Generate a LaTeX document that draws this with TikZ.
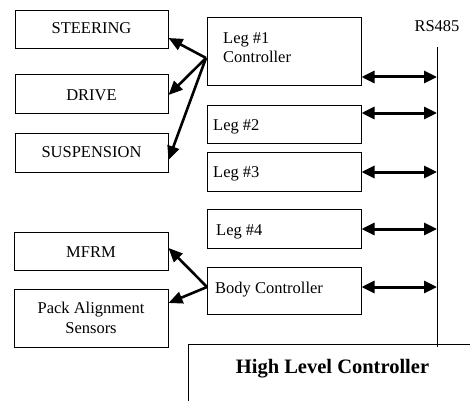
\documentclass[tikz,border=0pt]{standalone}
\usepackage{fontspec}
\setmainfont{Liberation Serif}
\usetikzlibrary{arrows.meta}
\begin{document}
\begin{tikzpicture}[x=1pt,y=-1pt,
  box/.style={draw, line width=1pt, rectangle, inner sep=0pt, minimum width=153pt},
  txt/.style={font=\fontsize{16.5}{19}\selectfont, inner sep=0pt},
  busarrow/.style={line width=3pt, {Triangle[length=13pt,width=12pt]}-{Triangle[length=13pt,width=12pt]}},
  subarrow/.style={line width=2.6pt, -{Triangle[length=14pt,width=12pt]}}]
\useasboundingbox (0,0) rectangle (470,401);
% left boxes
\node[box, minimum height=38pt] (steer) at (91.5,30) {};
\node[box, minimum height=38pt] (drive) at (91.5,94) {};
\node[box, minimum height=39pt] (susp) at (91.5,152.5) {};
\node[box, minimum height=38pt, minimum width=154pt] (mfrm) at (91,251) {};
\node[box, minimum height=58pt, minimum width=154pt] (pack) at (91,318) {};
% controller boxes
\node[box, minimum height=68pt, minimum width=154pt] (leg1) at (284,52) {};
\node[box, minimum height=38pt, minimum width=154pt] (leg2) at (284,124) {};
\node[box, minimum height=39pt, minimum width=154pt] (leg3) at (284,171.5) {};
\node[box, minimum height=39pt, minimum width=154pt] (leg4) at (284,228.5) {};
\node[box, minimum height=47pt, minimum width=154pt] (body) at (284,290.5) {};
% texts
\node[txt, anchor=base] at (91.5,34) {STEERING};
\node[txt, anchor=base] at (91.5,100) {DRIVE};
\node[txt, anchor=base] at (91.5,157) {SUSPENSION};
\node[txt, anchor=base] at (91,257) {MFRM};
\node[txt, anchor=base] at (91,313) {Pack Alignment};
\node[txt, anchor=base] at (91,333) {Sensors};
\node[txt, anchor=base west] at (223,44) {Leg \#1};
\node[txt, anchor=base west] at (223,63) {Controller};
\node[txt, anchor=base west] at (213,130) {Leg \#2};
\node[txt, anchor=base west] at (213,177) {Leg \#3};
\node[txt, anchor=base west] at (216,235) {Leg \#4};
\node[txt, anchor=base west] at (215,293) {Body Controller};
\node[txt, anchor=base] (rs) at (437,32) {RS485};
% high level controller (clipped by picture edge)
\coordinate (hl) at (188,344);
\draw[line width=1pt] (188,401) -- (hl) -- (470,344);
\node[inner sep=0pt, anchor=base, font=\fontsize{20.5}{24}\selectfont\bfseries] (hlc) at (332.5,373) {High Level Controller};
% bus
\coordinate (bustop) at (437,47);
\coordinate (busbot) at (437,347);
\draw[line width=1pt] (bustop) -- (busbot);
\coordinate (b1) at (437,77);
\coordinate (b2) at (437,113);
\coordinate (b3) at (437,172);
\coordinate (b4) at (437,229);
\coordinate (b5) at (437,287);
\draw[busarrow] (leg1.east |- b1) -- (b1);
\draw[busarrow] (leg2.east |- b2) -- (b2);
\draw[busarrow] (leg3.east |- b3) -- (b3);
\draw[busarrow] (leg4.east |- b4) -- (b4);
\draw[busarrow] (body.east |- b5) -- (b5);
% sub arrows
\coordinate (o1) at (206,58);
\coordinate (o2) at (207,287);
\draw[subarrow] (o1) -- (steer.east |- 0,38);
\draw[subarrow] (o1) -- (drive.east |- 0,95);
\draw[subarrow] (o1) -- (susp.east |- 0,160);
\draw[subarrow] (o2) -- (mfrm.east |- 0,248);
\draw[subarrow] (o2) -- (pack.east |- 0,303);
\end{tikzpicture}
\end{document}
